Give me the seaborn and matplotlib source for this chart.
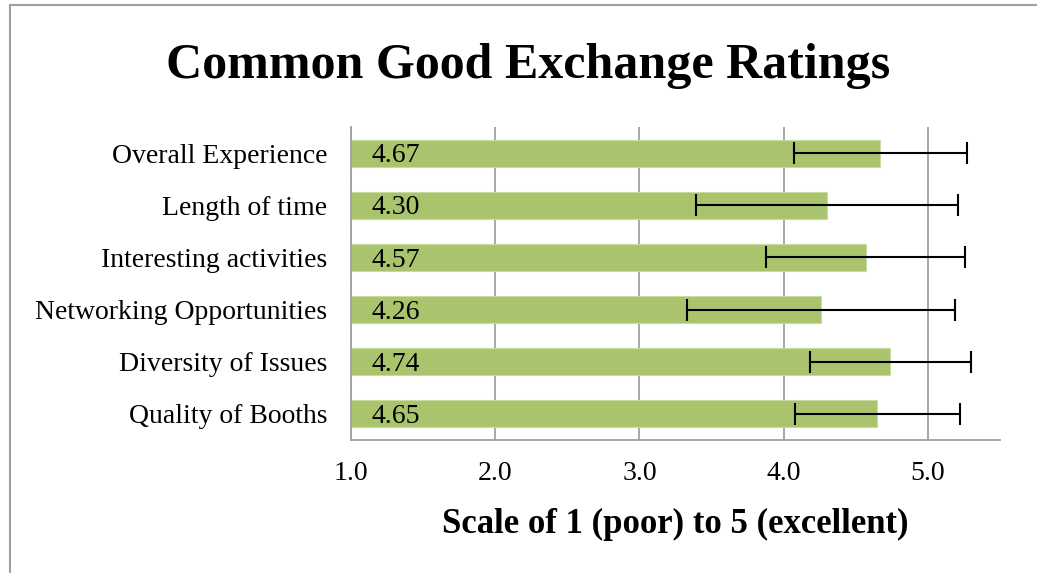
import numpy as np
import matplotlib
matplotlib.use("Agg")
import matplotlib.pyplot as plt
from matplotlib.patches import Rectangle
import seaborn as sns

# Data
categories = ["Overall Experience", "Length of time", "Interesting activities",
              "Networking Opportunities", "Diversity of Issues", "Quality of Booths"]
ratings = [4.67, 4.30, 4.57, 4.26, 4.74, 4.65]
std_dev = [0.60, 0.91, 0.69, 0.93, 0.56, 0.57]
xticks = [1.0, 2.0, 3.0, 4.0, 5.0]

sns.set_style("white")
plt.rcParams['font.family'] = ['Liberation Serif', 'DejaVu Serif']
plt.rcParams['text.color'] = 'black'
plt.rcParams['xtick.labelcolor'] = 'black'
plt.rcParams['ytick.labelcolor'] = 'black'
plt.rcParams['axes.labelcolor'] = 'black'

W, H = 1037, 573
fig = plt.figure(figsize=(W / 100, H / 100), dpi=100)
ax = fig.add_axes([351 / W, 1 - 440 / H, (1000 - 351) / W, (440 - 127) / H])

sns.barplot(x=ratings, y=categories, orient='h', color='#a9c46c',
            edgecolor='#c8dba0', linewidth=0.8, width=0.52, saturation=1,
            ax=ax, zorder=2)
ax.errorbar(ratings, np.arange(len(categories)), xerr=std_dev, fmt='none',
            ecolor='black', elinewidth=1.5, capsize=8, capthick=1.5, zorder=3)

for i, v in enumerate(ratings):
    ax.text(1.14, i + 0.05, f"{v:.2f}", va='center', ha='left', fontsize=20, zorder=4)

ax.set_xlim(1.0, 5.5)
ax.set_ylim(len(categories) - 0.5, -0.5)
ax.set_xticks(xticks)
ax.set_xticklabels([f"{t:.1f}" for t in xticks], fontsize=20)
ax.tick_params(axis='x', length=6, width=1.2, color='#a0a0a0', direction='out', pad=9)
ax.set_yticks(np.arange(len(categories)))
ax.set_yticklabels(categories, fontsize=20)
ax.set_yticks(np.arange(-0.5, len(categories)), minor=True)
ax.tick_params(axis='y', which='major', length=0, pad=17)
ax.tick_params(axis='y', which='minor', length=6, width=1.2, color='#a0a0a0', direction='out')

ax.grid(axis='x', color='#a0a0a0', linewidth=1.3, zorder=0)
ax.set_axisbelow(True)
for s in ['top', 'right']:
    ax.spines[s].set_visible(False)
for s in ['left', 'bottom']:
    ax.spines[s].set_color('#a0a0a0')
    ax.spines[s].set_linewidth(1.3)

ax.set_xlabel("Scale of 1 (poor) to 5 (excellent)", fontsize=25, fontweight='bold', labelpad=16)
ax.set_ylabel("")

fig.text(528 / W, 1 - 66 / H, "Common Good Exchange Ratings", ha='center', va='center',
         fontsize=36, fontweight='bold')

# outer chart frame
fig.add_artist(Rectangle((10 / W, -0.05), 1.2, 1 - 5 / H + 0.05, transform=fig.transFigure,
                         fill=False, edgecolor='#a0a0a0', linewidth=1.5))

fig.savefig("out.png", dpi=100)
